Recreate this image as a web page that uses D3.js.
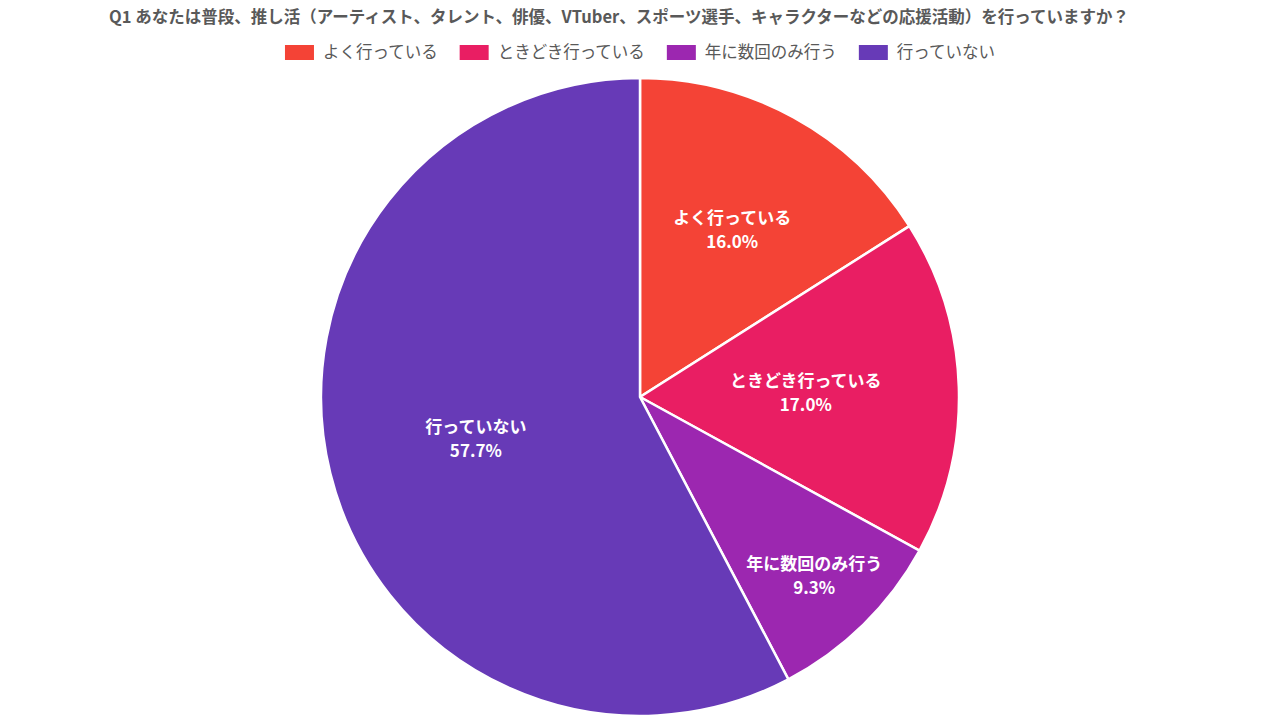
<!DOCTYPE html>
<html>
<head>
<meta charset="utf-8">
<script src="https://cdn.jsdelivr.net/npm/d3@7"></script>
<style>
  body { margin: 0; background: #fff; }
  text { font-family: "Noto Sans CJK JP", "Noto Sans", sans-serif; }
</style>
</head>
<body>
<script>
var categories = ['よく行っている', 'ときどき行っている', '年に数回のみ行う', '行っていない'];
var values = [16.0, 17.0, 9.3, 57.7];
var colors = ['#F44336', '#E91E63', '#9C27B0', '#673AB7'];
var title = 'Q1 あなたは普段、推し活（アーティスト、タレント、俳優、VTuber、スポーツ選手、キャラクターなどの応援活動）を行っていますか？';

// how far out each label sits, as a share of the radius
var labelPos = [0.6, 0.52, 0.78, 0.53];

var width = 1280, height = 720;
var cx = 640, cy = 397, radius = 319;

var svg = d3.select('body')
.append('svg')
.attr('width', width)
.attr('height', height);

svg.append('text')
.attr('x', 619)
.attr('y', 23)
.style('text-anchor', 'middle')
.style('font-size', '16.5px')
.style('font-weight', 'bold')
.style('fill', '#595959')
.text(title);

// legend, centred
var legend = svg.append('g');
var x0 = 0;
categories.forEach(function(c, i) {
  var item = legend.append('g').attr('transform', 'translate(' + x0 + ',0)');
  item.append('rect')
  .attr('x', 0)
  .attr('y', -7)
  .attr('width', 29)
  .attr('height', 15)
  .attr('fill', colors[i]);
  var t = item.append('text')
  .attr('x', 38)
  .attr('y', 6)
  .style('font-size', '16.5px')
  .style('fill', '#595959')
  .text(c);
  x0 += 38 + t.node().getComputedTextLength() + 22;
});
x0 -= 22;
legend.attr('transform', 'translate(' + (640 - x0 / 2) + ',52)');

var pie = d3.pie().sort(null).value(function(d) { return d; });
var arcs = pie(values);

var arc = d3.arc().innerRadius(0).outerRadius(radius);

var main = svg.append('g')
.attr('transform', 'translate(' + cx + ',' + cy + ')');

main.selectAll('path')
.data(arcs)
.enter().append('path')
.attr('d', arc)
.attr('fill', function(d, i) { return colors[i]; })
.attr('stroke', '#fff')
.attr('stroke-width', 2.5);

function labelXY(d, i) {
  var r = radius * labelPos[i];
  var a = (d.startAngle + d.endAngle) / 2;
  return [Math.sin(a) * r, -Math.cos(a) * r];
}

// two separate lines per slice: name, then percentage
main.selectAll('.name')
.data(arcs)
.enter().append('text')
.attr('class', 'name')
.attr('x', function(d, i) { return labelXY(d, i)[0]; })
.attr('y', function(d, i) { return labelXY(d, i)[1] - 5; })
.style('text-anchor', 'middle')
.style('font-size', '17px')
.style('font-weight', 'bold')
.style('fill', '#fff')
.text(function(d, i) { return categories[i]; });

main.selectAll('.pct')
.data(arcs)
.enter().append('text')
.attr('class', 'pct')
.attr('x', function(d, i) { return labelXY(d, i)[0]; })
.attr('y', function(d, i) { return labelXY(d, i)[1] + 19; })
.style('text-anchor', 'middle')
.style('font-size', '17px')
.style('font-weight', 'bold')
.style('fill', '#fff')
.text(function(d) { return d.value.toFixed(1) + '%'; });
</script>
</body>
</html>
